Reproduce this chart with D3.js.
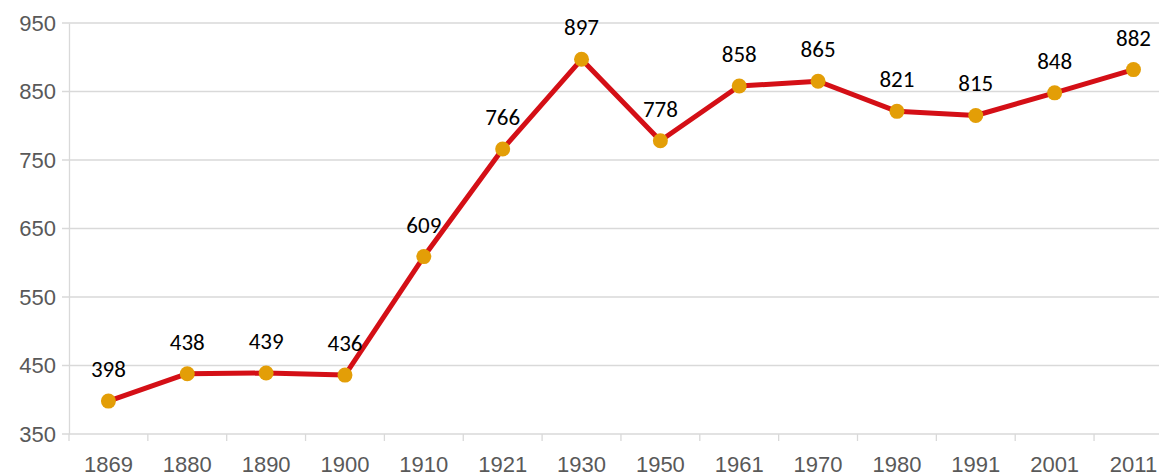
<!DOCTYPE html>
<html>
<head>
<meta charset="utf-8">
<script src="https://cdn.jsdelivr.net/npm/d3@7"></script>
<style>
  body { margin: 0; background: #fff; }
  svg { display: block; font-family: Carlito, Calibri, "Open Sans", sans-serif; }
</style>
</head>
<body>
<div id="chart"></div>
<script>
const years = ['1869', '1880', '1890', '1900', '1910', '1921', '1930', '1950', '1961', '1970', '1980', '1991', '2001', '2011'];
const population = [398, 438, 439, 436, 609, 766, 897, 778, 858, 865, 821, 815, 848, 882];
const yTicks = [350, 450, 550, 650, 750, 850, 950];

const width = 1159, height = 476;
const margin = { top: 23, left: 69, bottom: 42 };
// the plot runs past the right edge of the picture
const bandW = 78.85;
const plotRight = margin.left + bandW * years.length;

const svg = d3.select('#chart')
  .append('svg')
  .attr('width', width)
  .attr('height', height);

const x = d3.scaleBand()
  .domain(years)
  .range([margin.left, plotRight]);

const y = d3.scaleLinear()
  .domain([350, 950])
  .range([height - margin.bottom, margin.top]);

// Gridlines
svg.append('g')
  .selectAll('line')
  .data(yTicks)
  .enter()
  .append('line')
  .attr('x1', margin.left - 7)
  .attr('x2', width)
  .attr('y1', d => y(d))
  .attr('y2', d => y(d))
  .attr('stroke', '#d9d9d9')
  .attr('stroke-width', 1.3);

// Y axis
const yAxis = svg.append('g')
  .attr('transform', `translate(${margin.left},0)`)
  .call(d3.axisLeft(y).tickValues(yTicks).tickSize(0).tickPadding(13));
yAxis.select('.domain').attr('stroke', '#d9d9d9').attr('stroke-width', 1.3);
yAxis.selectAll('text').attr('fill', '#595959').style('font-size', '22px');

// X axis with ticks on band boundaries
const xAxis = svg.append('g')
  .attr('transform', `translate(0,${y(350)})`)
  .call(d3.axisBottom(x).tickSize(0).tickPadding(22));
xAxis.select('.domain').remove();
xAxis.selectAll('text').attr('fill', '#595959').style('font-size', '22px');

svg.append('g')
  .selectAll('line')
  .data(years)
  .enter()
  .append('line')
  .attr('x1', d => x(d))
  .attr('x2', d => x(d))
  .attr('y1', y(350))
  .attr('y2', y(350) + 7)
  .attr('stroke', '#d9d9d9')
  .attr('stroke-width', 1.3);

const points = years.map((d, i) => ({ year: d, value: population[i] }));

const line = d3.line()
  .x(d => x(d.year) + x.bandwidth() / 2)
  .y(d => y(d.value));

svg.append('path')
  .datum(points)
  .attr('fill', 'none')
  .attr('stroke', '#d40f16')
  .attr('stroke-width', 5)
  .attr('stroke-linejoin', 'round')
  .attr('d', line);

svg.selectAll('.dot')
  .data(points)
  .enter()
  .append('circle')
  .attr('class', 'dot')
  .attr('cx', d => x(d.year) + x.bandwidth() / 2)
  .attr('cy', d => y(d.value))
  .attr('r', 7.5)
  .attr('fill', '#e39e07');

svg.selectAll('.label')
  .data(points)
  .enter()
  .append('text')
  .attr('class', 'label')
  .attr('x', d => x(d.year) + x.bandwidth() / 2)
  .attr('y', d => y(d.value) - 24)
  .attr('text-anchor', 'middle')
  .attr('fill', '#000')
  .style('font-size', '23px')
  .text(d => d.value);
</script>
</body>
</html>
